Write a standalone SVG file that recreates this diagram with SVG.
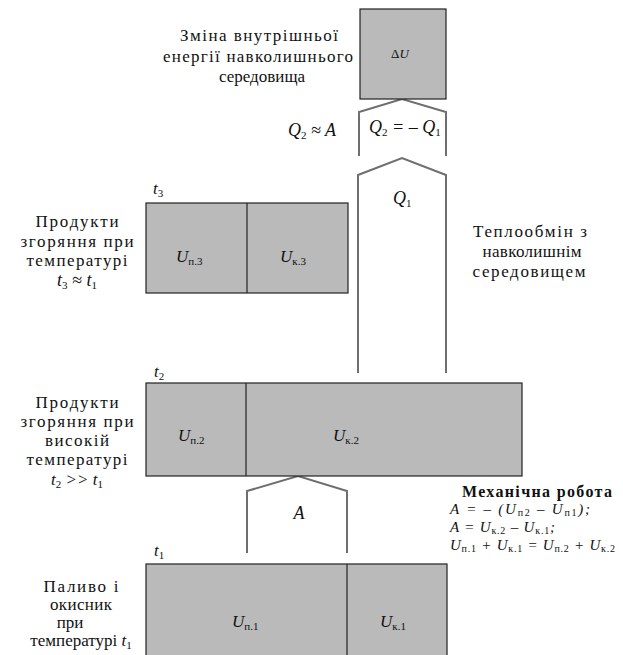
<svg xmlns="http://www.w3.org/2000/svg" width="623" height="655" viewBox="0 0 623 655">
<style>
.box{fill:#bababa;stroke:#222;stroke-width:1.2}
.div{stroke:#222;stroke-width:1.2}
.arr{fill:none;stroke:#6e6e6e;stroke-width:2}
.lbl{font-family:"Liberation Serif","DejaVu Serif",serif;font-size:17px;fill:#111;text-anchor:middle}
.m{font-family:"Liberation Serif","DejaVu Serif",serif;font-style:italic;font-size:17px;fill:#111}
.q{font-size:18px}
.mc{text-anchor:middle}
.s{font-size:11px;font-style:normal}
.f{font-family:"Liberation Serif","DejaVu Serif",serif;font-style:italic;font-size:15px;fill:#111}
.fs{font-size:10px;font-style:normal}
.mech{font-family:"Liberation Serif","DejaVu Serif",serif;font-weight:bold;font-size:16px;fill:#111}
</style>
<rect width="623" height="655" fill="#fff"/>

<g id="connectors">
<polyline class="arr" points="359,156 359,112 402,99 446,112 446,156"/>
<polyline class="arr" points="358,373 358,175 402,158 446,175 446,373"/>
<polyline class="arr" points="247,553 247,491 298,476 347,491 347,553"/>
<text class="m q" x="288" y="136">Q<tspan class="s" dy="3">2</tspan><tspan dy="-3"> ≈ A</tspan></text>
<text class="m q" x="369" y="133">Q<tspan class="s" dy="3">2</tspan><tspan dy="-3"> = – Q</tspan><tspan class="s" dy="3">1</tspan></text>
<text class="m q" x="393" y="204">Q<tspan class="s" dy="3">1</tspan></text>
<text class="m q mc" x="299" y="519">A</text>
</g>

<g id="env">
<rect class="box" x="360" y="9" width="86" height="90"/>
<text class="m mc" x="400" y="58" style="font-size:13px;font-style:normal">Δ<tspan font-style="italic">U</tspan></text>
<text class="lbl" x="259" y="41" textLength="158">Зміна внутрішньої</text>
<text class="lbl" x="258" y="62" textLength="190">енергії навколишнього</text>
<text class="lbl" x="262" y="82">середовища</text>
</g>

<g id="exchange">
<text class="lbl" x="530" y="237" textLength="114">Теплообмін з</text>
<text class="lbl" x="532" y="257" textLength="99">навколишнім</text>
<text class="lbl" x="529" y="277" textLength="113">середовищем</text>
</g>

<g id="state3">
<text class="m" x="153" y="194">t<tspan class="s" dy="3">3</tspan></text>
<rect class="box" x="146" y="203" width="202" height="90"/>
<line class="div" x1="247" y1="203" x2="247" y2="293"/>
<text class="m" x="176" y="262">U<tspan class="s" dy="3">п.3</tspan></text>
<text class="m" x="280" y="262">U<tspan class="s" dy="3">к.3</tspan></text>
<text class="lbl" x="77" y="227" textLength="83">Продукти</text>
<text class="lbl" x="77" y="247" textLength="113">згоряння при</text>
<text class="lbl" x="77" y="266" textLength="101">температурі</text>
<text class="m q mc" x="77" y="286">t<tspan class="s" dy="3">3</tspan><tspan dy="-3"> ≈ t</tspan><tspan class="s" dy="3">1</tspan></text>
</g>

<g id="state2">
<text class="m" x="154" y="377">t<tspan class="s" dy="3">2</tspan></text>
<rect class="box" x="146" y="383" width="376" height="93"/>
<line class="div" x1="246" y1="383" x2="246" y2="476"/>
<text class="m" x="178" y="441">U<tspan class="s" dy="3">п.2</tspan></text>
<text class="m" x="333" y="441">U<tspan class="s" dy="3">к.2</tspan></text>
<text class="lbl" x="77" y="408" textLength="83">Продукти</text>
<text class="lbl" x="77" y="427" textLength="113">згоряння при</text>
<text class="lbl" x="77" y="446" textLength="64">високій</text>
<text class="lbl" x="77" y="465" textLength="101">температурі</text>
<text class="m mc" x="77" y="485">t<tspan class="s" dy="3">2</tspan><tspan dy="-3"> &gt;&gt; t</tspan><tspan class="s" dy="3">1</tspan></text>
</g>

<g id="state1">
<text class="m" x="154" y="556">t<tspan class="s" dy="3">1</tspan></text>
<rect class="box" x="146" y="564" width="301" height="100"/>
<line class="div" x1="347" y1="564" x2="347" y2="655"/>
<text class="m" x="232" y="627">U<tspan class="s" dy="3">п.1</tspan></text>
<text class="m" x="380" y="627">U<tspan class="s" dy="3">к.1</tspan></text>
<text class="lbl" x="81" y="592" textLength="75">Паливо і</text>
<text class="lbl" x="81" y="610" textLength="62">окисник</text>
<text class="lbl" x="70" y="628">при</text>
<text class="lbl" x="81" y="646">температурі <tspan font-style="italic">t</tspan><tspan class="s" dy="3">1</tspan></text>
</g>

<g id="work">
<text class="mech" x="462" y="497" textLength="150">Механічна робота</text>
<text class="f" x="450" y="514" textLength="140">A = – (U<tspan class="fs" dy="2">п2</tspan><tspan dy="-2"> – U</tspan><tspan class="fs" dy="2">п1</tspan><tspan dy="-2">);</tspan></text>
<text class="f" x="450" y="532" textLength="105">A = U<tspan class="fs" dy="2">к.2</tspan><tspan dy="-2"> – U</tspan><tspan class="fs" dy="2">к.1</tspan><tspan dy="-2">;</tspan></text>
<text class="f" x="450" y="550" textLength="165">U<tspan class="fs" dy="2">п.1</tspan><tspan dy="-2"> + U</tspan><tspan class="fs" dy="2">к.1</tspan><tspan dy="-2"> = U</tspan><tspan class="fs" dy="2">п.2</tspan><tspan dy="-2"> + U</tspan><tspan class="fs" dy="2">к.2</tspan></text>
</g>
</svg>
